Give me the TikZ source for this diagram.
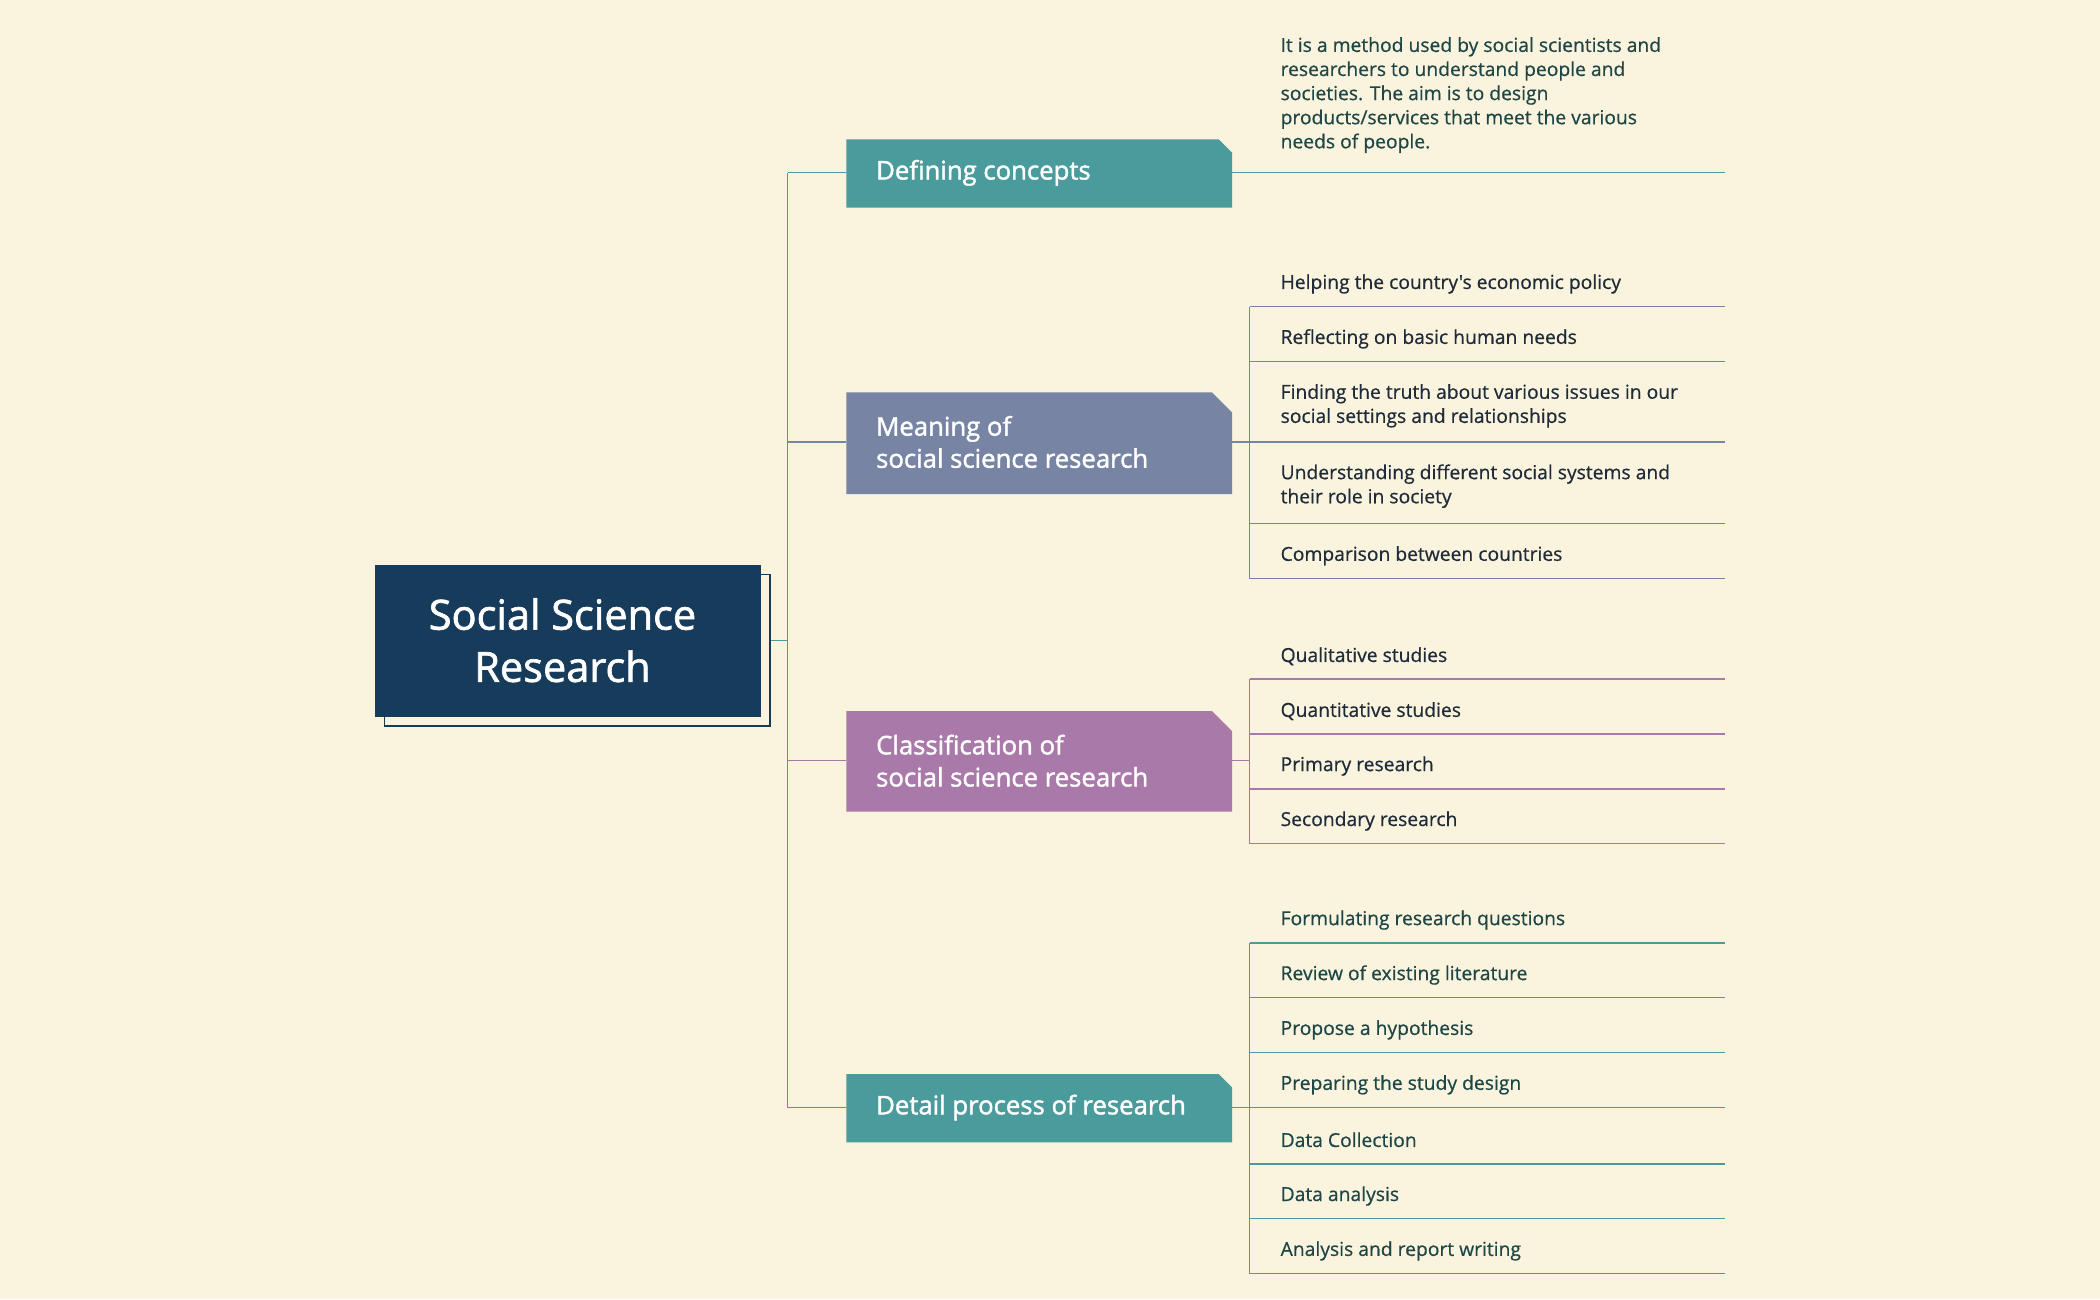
\documentclass[tikz,border=0pt]{standalone}
\usepackage{fontspec}
\setmainfont{Open Sans}
\newfontfamily\medfont[FakeBold=0.6]{Open Sans}
\newfontfamily\semifont[FakeBold=1.6]{Open Sans}
\definecolor{bg}{HTML}{FAF4DF}
\definecolor{navy}{HTML}{173B5A}
\definecolor{teal}{HTML}{4A9B9B}
\definecolor{slate}{HTML}{7784A4}
\definecolor{mauve}{HTML}{A979A9}
\definecolor{txt}{HTML}{1F2B38}
\definecolor{dtxt}{HTML}{1E4646}
\begin{document}
\begin{tikzpicture}[x=1pt,y=-1pt,
  item/.style={anchor=west,font=\medfont\fontsize{14.4}{18}\selectfont,text=txt,inner sep=0pt,align=left},
  btxt/.style={anchor=west,font=\semifont\fontsize{19.2}{24}\selectfont,text=white,inner sep=0pt,align=left}]
\useasboundingbox (0,0) rectangle (1568,970);
\fill[bg] (0,0) rectangle (1568,970);
% trunk
\draw[teal,line width=1pt] (575,478) -- (588,478);
\draw[teal,line width=1pt] (588,129) -- (588,827);
\draw[teal,line width=1pt] (588,129) -- (632,129);
\draw[slate,line width=1pt] (588,330) -- (632,330);
\draw[mauve,line width=1pt] (588,568) -- (632,568);
\draw[teal,line width=1pt] (588,827) -- (632,827);
% central
\draw[navy,line width=1pt] (287,429) rectangle (575,542);
\fill[navy] (280,422) rectangle (568,535);
\node[font=\semifont\fontsize{31}{39}\selectfont,text=white,align=center] (c) at (420,478) {Social Science\\Research};
% boxes
\fill[teal] (632,104) -- (910,104) -- (920,114) -- (920,155) -- (632,155) -- cycle;
\node[btxt] (b1) at (654,129) {Defining concepts};
\fill[slate] (632,293) -- (905,293) -- (920,308) -- (920,369) -- (632,369) -- cycle;
\node[btxt] (b2) at (654,330) {Meaning of\\social science research};
\fill[mauve] (632,531) -- (905,531) -- (920,546) -- (920,606) -- (632,606) -- cycle;
\node[btxt] (b3) at (654,568) {Classification of\\social science research};
\fill[teal] (632,802) -- (910,802) -- (920,812) -- (920,853) -- (632,853) -- cycle;
\node[btxt] (b4) at (654,827) {Detail process of research};
% defining
\draw[teal,line width=1pt] (920,129) -- (1288,129);
\node[item,text=dtxt] at (956,71) {It is a method used by social scientists and\\researchers to understand people and\\societies. The aim is to design\\products/services that meet the various\\needs of people.};
% meaning
\draw[slate,line width=1pt] (920,330) -- (933,330) (933,229) -- (933,432);
\foreach \y in {229,270,330,391,432} \draw[slate,line width=1pt] (933,\y) -- (1288,\y);
\node[item] at (956,212) {Helping the country's economic policy};
\node[item] at (956,253) {Reflecting on basic human needs};
\node[item] at (956,303) {Finding the truth about various issues in our\\social settings and relationships};
\node[item] at (956,363) {Understanding different social systems and\\their role in society};
\node[item] at (956,415) {Comparison between countries};
% classification
\draw[mauve,line width=1pt] (920,568) -- (933,568) (933,507) -- (933,630);
\foreach \y in {507,548,589,630} \draw[mauve,line width=1pt] (933,\y) -- (1288,\y);
\node[item] at (956,490) {Qualitative studies};
\node[item] at (956,531) {Quantitative studies};
\node[item] at (956,572) {Primary research};
\node[item] at (956,613) {Secondary research};
% detail
\draw[teal,line width=1pt] (920,827) -- (933,827) (933,704) -- (933,951);
\foreach \y in {704,745,786,827,869,910,951} \draw[teal,line width=1pt] (933,\y) -- (1288,\y);
\node[item,text=dtxt] at (956,687) {Formulating research questions};
\node[item,text=dtxt] at (956,728) {Review of existing literature};
\node[item,text=dtxt] at (956,769) {Propose a hypothesis};
\node[item,text=dtxt] at (956,810) {Preparing the study design};
\node[item,text=dtxt] at (956,851) {Data Collection};
\node[item,text=dtxt] at (956,893) {Data analysis};
\node[item,text=dtxt] at (956,934) {Analysis and report writing};
\end{tikzpicture}
\end{document}
